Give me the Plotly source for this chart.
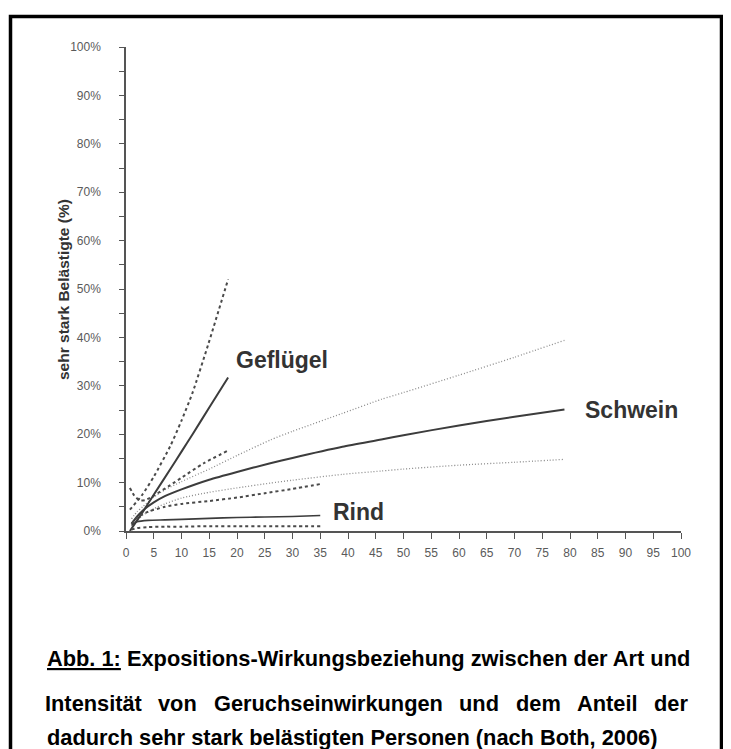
import plotly.graph_objects as go

# ---------------- data ----------------
gefluegel_x = [0.7, 3, 5, 8, 10, 12, 15, 18.4]
gefluegel = [0.0, 3.9, 7.5, 12.8, 16.4, 20.0, 25.5, 31.7]
gefluegel_upper_x = [0.7, 3, 5, 8, 10, 12, 14.8, 18.4]
gefluegel_upper = [4.4, 7.6, 11.2, 17.6, 22.8, 28.6, 38.5, 52.0]
gefluegel_lower_x = [0.7, 1.5, 2.5, 3.5, 5, 8, 10, 14, 18.2]
gefluegel_lower = [8.9, 7.3, 6.3, 6.4, 7.3, 9.5, 11.0, 14.0, 16.5]

schwein_x = [1, 2, 3, 5, 7, 10, 15, 20, 26, 30, 39, 46, 50, 60, 70, 79]
schwein = [1.5, 3.0, 4.2, 5.9, 7.2, 8.6, 10.6, 12.2, 14.0, 15.1, 17.4, 18.9, 19.8, 21.8, 23.6, 25.1]
schwein_upper = [2.5, 4.0, 5.0, 7.0, 8.5, 10.2, 12.8, 15.6, 18.8, 20.6, 24.3, 27.2, 28.6, 32.2, 35.9, 39.4]
schwein_lower = [1.0, 2.2, 3.2, 4.6, 5.6, 6.8, 8.0, 8.9, 9.9, 10.5, 11.7, 12.4, 12.8, 13.6, 14.2, 14.8]

rind_x = [1, 2, 4, 7, 10, 15, 20, 25, 30, 35]
rind = [1.2, 1.9, 2.2, 2.3, 2.4, 2.6, 2.8, 2.9, 3.0, 3.2]
rind_upper = [1.5, 2.8, 4.0, 5.0, 5.6, 6.2, 6.9, 7.8, 8.7, 9.7]
rind_lower = [0.3, 0.6, 0.8, 0.9, 0.9, 1.0, 1.0, 1.0, 1.0, 1.0]

x_ticks = list(range(0, 101, 5))
y_ticks = list(range(0, 101, 10))

labels = [("Geflügel", 28.1, 35.3), ("Schwein", 91.0, 25.0), ("Rind", 41.9, 4.0)]

caption_line1 = "Expositions-Wirkungsbeziehung zwischen der Art und"
caption_prefix = "Abb. 1:"
caption_line2 = ["Intensität", "von", "Geruchseinwirkungen", "und", "dem", "Anteil", "der"]
caption_line3 = "dadurch sehr stark belästigten Personen (nach Both, 2006)"
axis_title = "sehr stark Belästigte (%)"

# ---------------- figure geometry ----------------
OFF = 8                      # page body margin
W, H = 723, 741
# plot area in screen pixels
SX0, SX1, SY0, SY1 = 126, 681, 47, 531
L, R = SX0 - OFF, W - (SX1 - OFF)
T, B = SY0 - OFF, H - (SY1 - OFF)

def px(sx):
    return (sx - SX0) / (SX1 - SX0)

def py(sy):
    return (SY1 - sy) / (SY1 - SY0)

fig = go.Figure()

solid = dict(color="#3c3c3c", width=2)
dashed = dict(color="#4a4a4a", width=2, dash="3px,3px")
dotted = dict(color="#8a8a8a", width=1.3, dash="1px,2px")

def add(x, y, line):
    fig.add_trace(go.Scatter(x=x, y=y, mode="lines",
                             line=dict(shape="spline", smoothing=0.6, **line),
                             hoverinfo="skip", showlegend=False))

add(schwein_x, schwein_upper, dotted)
add(schwein_x, schwein_lower, dotted)
add(schwein_x, schwein, solid)
add(gefluegel_upper_x, gefluegel_upper, dashed)
add(gefluegel_lower_x, gefluegel_lower, dashed)
add(gefluegel_x, gefluegel, solid)
add(rind_x, rind_upper, dashed)
add(rind_x, rind_lower, dashed)
add(rind_x, rind, dict(color="#3c3c3c", width=1.6))

for txt, xv, yv in labels:
    fig.add_annotation(x=xv, y=yv, xref="x", yref="y", text="<b>%s</b>" % txt, showarrow=False,
                       xanchor="center", yanchor="middle",
                       font=dict(family="Liberation Sans, Arial", size=23, color="#333333"))

# axis title
fig.add_annotation(x=px(63), y=py(290), xref="paper", yref="paper", text="<b>%s</b>" % axis_title,
                   textangle=-90, showarrow=False, xanchor="center", yanchor="middle",
                   font=dict(family="Liberation Sans, Arial", size=15.5, color="#333333"))

# caption
CAP = 21.8
cap_font = dict(family="Liberation Sans, Arial", size=CAP, color="#000000")
fig.add_annotation(x=px(45), y=py(658), xref="paper", yref="paper", xanchor="left", yanchor="middle",
                   text="<b><u>%s</u> %s</b>" % (caption_prefix, caption_line1),
                   showarrow=False, font=cap_font)

# justified second line (Arial/Liberation bold advance widths, per 1000 em)
adv = {'a': 556, 'b': 611, 'c': 556, 'd': 611, 'e': 556, 'f': 333, 'g': 611, 'h': 611, 'i': 278,
       'k': 556, 'l': 278, 'm': 889, 'n': 611, 'o': 611, 'r': 389, 's': 556, 't': 333, 'u': 611,
       'v': 556, 'w': 778, 'ä': 556, 'I': 278, 'A': 722, 'G': 778}
widths = [sum(adv.get(c, 556) for c in w) * CAP / 1000 for w in caption_line2]
left_edge, right_edge = 45, 688
gap = (right_edge - left_edge - sum(widths)) / (len(caption_line2) - 1)
pos = left_edge
for w, wd in zip(caption_line2, widths):
    fig.add_annotation(x=px(pos + wd / 2), y=py(704), xref="paper", yref="paper", xanchor="center",
                       yanchor="middle", text="<b>%s</b>" % w, showarrow=False, font=cap_font)
    pos += wd + gap

fig.add_annotation(x=px(45), y=py(737), xref="paper", yref="paper", xanchor="left", yanchor="middle",
                   text="<b>%s</b>" % caption_line3, showarrow=False, font=cap_font)

# outer frame
fig.add_shape(type="rect", xref="paper", yref="paper", x0=px(10.5), x1=px(721.5), y0=py(16.5), y1=py(770),
              line=dict(color="black", width=3.5))

tick_font = dict(family="Liberation Sans, Arial", size=12, color="#5a5a5a")
fig.update_xaxes(range=[0, 100], tickvals=x_ticks, ticktext=[str(v) for v in x_ticks],
                 showline=True, linecolor="#555555", linewidth=1.5, ticks="outside", ticklen=6,
                 tickcolor="#555555", tickwidth=1.2, showgrid=False, zeroline=False, tickfont=tick_font,
                 ticklabelstandoff=4)
fig.update_yaxes(range=[0, 100], tickvals=y_ticks, ticktext=["%d%%" % v for v in y_ticks],
                 showline=True, linecolor="#555555", linewidth=1.5, ticks="outside", ticklen=5,
                 tickcolor="#555555", tickwidth=1.2, showgrid=False, zeroline=False, tickfont=tick_font,
                 ticklabelstandoff=16,
                 minor=dict(dtick=5, tick0=0, ticks="outside", ticklen=5, tickcolor="#555555", tickwidth=1.2))

fig.update_layout(width=W, height=H, margin=dict(l=L, r=R, t=T, b=B), plot_bgcolor="white",
                  paper_bgcolor="white", showlegend=False)

fig.write_html("out.html")
